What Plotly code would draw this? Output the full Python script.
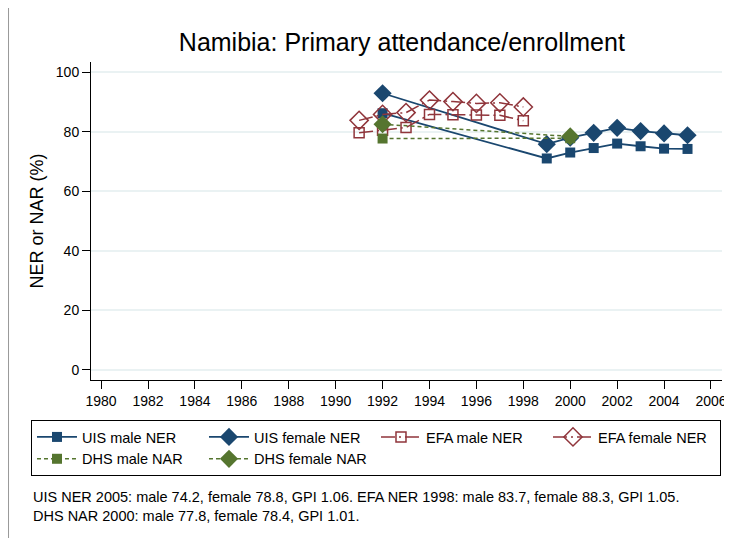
import plotly.graph_objs as go

# UIS net enrolment ratio
uis_years = [1992, 1999, 2000, 2001, 2002, 2003, 2004, 2005]
uis_male = [86.2, 71.0, 73.0, 74.5, 76.0, 75.1, 74.3, 74.2]
uis_female = [92.9, 75.8, 78.0, 79.6, 81.3, 80.2, 79.4, 78.8]

# EFA net enrolment ratio
efa_years = [1991, 1992, 1993, 1994, 1995, 1996, 1997, 1998]
efa_male = [79.6, 80.5, 81.4, 85.8, 85.7, 85.6, 85.5, 83.7]
efa_female = [83.8, 85.8, 86.4, 90.6, 90.1, 89.5, 89.7, 88.3]

# DHS net attendance ratio
dhs_years = [1992, 2000]
dhs_male = [77.7, 77.8]
dhs_female = [82.5, 78.4]

note = ("UIS NER 2005: male 74.2, female 78.8, GPI 1.06. EFA NER 1998: male 83.7, female 88.3, GPI 1.05.<br>"
        "DHS NAR 2000: male 77.8, female 78.4, GPI 1.01.")

navy = '#1a476f'
maroon = '#90353b'
green = '#55752f'

fig = go.Figure()
fig.add_trace(go.Scatter(x=uis_years, y=uis_male, name='UIS male NER', mode='lines+markers',
                         line=dict(color=navy, width=1.8),
                         marker=dict(symbol='square', size=10, color=navy)))
fig.add_trace(go.Scatter(x=uis_years, y=uis_female, name='UIS female NER', mode='lines+markers',
                         line=dict(color=navy, width=1.8),
                         marker=dict(symbol='diamond', size=14, color=navy)))
fig.add_trace(go.Scatter(x=efa_years, y=efa_male, name='EFA male NER', mode='lines+markers',
                         line=dict(color=maroon, width=1.5, dash='14px,4px,2px,4px'),
                         marker=dict(symbol='square-open', size=10, color=maroon,
                                     line=dict(width=1.5, color=maroon))))
fig.add_trace(go.Scatter(x=efa_years, y=efa_female, name='EFA female NER', mode='lines+markers',
                         line=dict(color=maroon, width=1.5, dash='14px,4px,2px,4px'),
                         marker=dict(symbol='diamond-open', size=14, color=maroon,
                                     line=dict(width=1.5, color=maroon))))
fig.add_trace(go.Scatter(x=dhs_years, y=dhs_male, name='DHS male NAR', mode='lines+markers',
                         line=dict(color=green, width=1.5, dash='4px,3px'),
                         marker=dict(symbol='square', size=10, color=green)))
fig.add_trace(go.Scatter(x=dhs_years, y=dhs_female, name='DHS female NAR', mode='lines+markers',
                         line=dict(color=green, width=1.5, dash='4px,3px'),
                         marker=dict(symbol='diamond', size=14, color=green)))

fig.add_annotation(text=note, xref='paper', yref='paper', x=-0.095, y=-0.338,
                   xanchor='left', yanchor='top', align='left', showarrow=False,
                   font=dict(size=14.5, color='black'))
# thin frame line at the left edge of the graph
fig.add_shape(type='line', xref='paper', yref='paper', x0=-0.1307, x1=-0.1307, y0=-0.6, y1=1.2,
              line=dict(color='#999999', width=1))

# page body has an 8px margin, so the figure is 8px smaller than the window
fig.update_layout(
    width=724, height=530,
    margin=dict(l=83, r=10, t=54, b=158),
    paper_bgcolor='white', plot_bgcolor='white',
    font=dict(family='Liberation Sans, Arial, sans-serif', color='black'),
    title=dict(text='Namibia: Primary attendance/enrollment', x=0.544, xanchor='center',
               y=0.936, yanchor='middle', font=dict(size=25)),
    xaxis=dict(range=[1979.57, 2006.47], tickmode='array', tickvals=list(range(1980, 2007, 2)),
               showgrid=False, zeroline=False, showline=True, linecolor='black', linewidth=1,
               ticks='outside', ticklen=8, tickcolor='black', tickfont=dict(size=14),
               automargin=False),
    yaxis=dict(range=[-3.4, 103.4], tickvals=[0, 20, 40, 60, 80, 100],
               showgrid=True, gridcolor='#eaf2f3', gridwidth=1.5, zeroline=False,
               showline=True, linecolor='black', linewidth=1,
               ticks='outside', ticklen=8, tickcolor='black', tickfont=dict(size=14),
               title=dict(text='NER or NAR (%)', font=dict(size=18), standoff=7),
               automargin=False),
    legend=dict(orientation='h', x=-0.0951, y=-0.1258, xanchor='left', yanchor='top',
                bordercolor='black', borderwidth=1, font=dict(size=14.5),
                itemwidth=40, entrywidth=117, entrywidthmode='pixels', tracegroupgap=0),
)

fig.write_html("out.html")
